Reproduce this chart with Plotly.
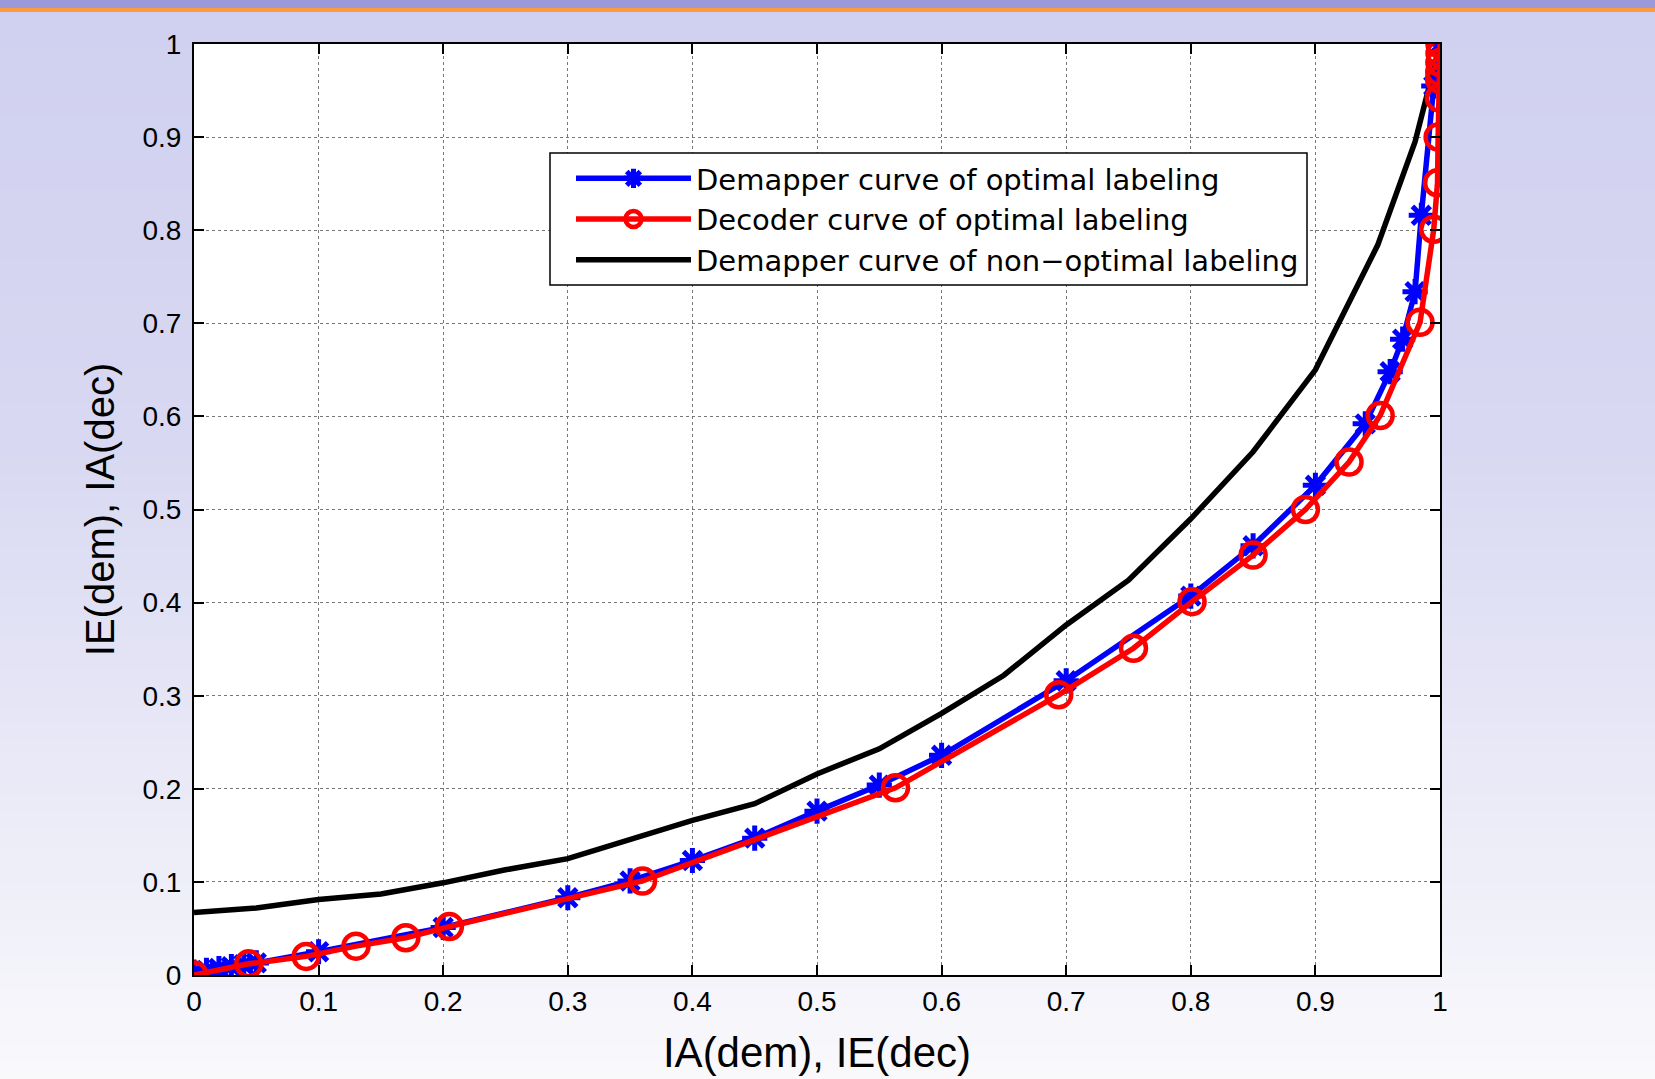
import plotly.graph_objects as go

# ---------------- data ----------------
demap_opt_x = [0.0, 0.01, 0.02, 0.03, 0.04, 0.05, 0.1, 0.2, 0.3, 0.35, 0.4, 0.45, 0.5, 0.55, 0.6,
               0.7, 0.8, 0.85, 0.9, 0.94, 0.96, 0.97, 0.98, 0.985, 0.995, 1.0]
demap_opt_y = [0.003, 0.005, 0.007, 0.009, 0.011, 0.013, 0.025, 0.051, 0.083, 0.101, 0.123, 0.147,
               0.176, 0.204, 0.236, 0.316, 0.407, 0.461, 0.526, 0.592, 0.648, 0.683, 0.734, 0.816,
               0.955, 1.0]

decoder_x = [0.0, 0.044, 0.09, 0.13, 0.17, 0.205, 0.36, 0.563, 0.694, 0.754, 0.801, 0.85, 0.892,
             0.927, 0.952, 0.984, 0.995, 0.998, 0.9985, 0.9995, 0.9997, 0.9998, 0.9999, 1.0, 1.0]
decoder_y = [0.0, 0.012, 0.02, 0.031, 0.04, 0.052, 0.101, 0.201, 0.301, 0.351, 0.401, 0.451, 0.5,
             0.551, 0.601, 0.701, 0.801, 0.851, 0.9, 0.942, 0.962, 0.97, 0.98, 0.99, 1.0]

demap_nonopt_x = [0.0, 0.05, 0.1, 0.15, 0.2, 0.25, 0.3, 0.35, 0.4, 0.45, 0.5, 0.55, 0.6, 0.65,
                  0.7, 0.75, 0.8, 0.85, 0.9, 0.95, 0.98, 1.0]
demap_nonopt_y = [0.067, 0.072, 0.081, 0.087, 0.099, 0.113, 0.125, 0.146, 0.166, 0.184, 0.216,
                  0.243, 0.281, 0.322, 0.376, 0.424, 0.49, 0.562, 0.65, 0.784, 0.895, 1.0]

series_names = ["Demapper curve of optimal labeling",
                "Decoder curve of optimal labeling",
                "Demapper curve of non\u2212optimal labeling"]

tick_vals = [0, 0.1, 0.2, 0.3, 0.4, 0.5, 0.6, 0.7, 0.8, 0.9, 1]
tick_text = ["0", "0.1", "0.2", "0.3", "0.4", "0.5", "0.6", "0.7", "0.8", "0.9", "1"]

x_title = "IA(dem), IE(dec)"
y_title = "IE(dem), IA(dec)"

# ---------------- figure ----------------
W, H = 1655, 1079
ML, MR, MT, MB = 194, 215, 44, 104
PW, PH = W - ML - MR, H - MT - MB

fig = go.Figure()

fig.add_trace(go.Scatter(
    x=demap_nonopt_x, y=demap_nonopt_y, mode="lines", name=series_names[2],
    line=dict(color="black", width=5.5)))
fig.add_trace(go.Scatter(
    x=demap_opt_x, y=demap_opt_y, mode="lines+markers", name=series_names[0],
    line=dict(color="#0000FF", width=5.5),
    marker=dict(symbol="asterisk-open", size=21, color="#0000FF",
                line=dict(width=5, color="#0000FF"))))
fig.add_trace(go.Scatter(
    x=decoder_x, y=decoder_y, mode="lines+markers", name=series_names[1],
    line=dict(color="#FF0000", width=5.5),
    marker=dict(symbol="circle-open", size=25, color="#FF0000",
                line=dict(width=4.5, color="#FF0000"))))


def px2paper_x(px):
    return (px - ML) / PW


def px2paper_y(py):
    return (H - MB - py) / PH


shapes = []
top_c = (208, 208, 240)
mid_c = (216, 216, 242)
bot_c = (249, 249, 252)
nb = 60
y_start = 12
for i in range(nb):
    t0 = i / nb
    t1 = (i + 1) / nb
    tm = (t0 + t1) / 2
    if tm < 0.4:
        f = tm / 0.4
        c = tuple(int(round(top_c[k] + (mid_c[k] - top_c[k]) * f)) for k in range(3))
    else:
        f = (tm - 0.4) / 0.6
        c = tuple(int(round(mid_c[k] + (bot_c[k] - mid_c[k]) * f)) for k in range(3))
    py0 = y_start + t0 * (H - y_start)
    py1 = y_start + t1 * (H - y_start) + 1
    shapes.append(dict(type="rect", xref="paper", yref="paper", layer="below",
                       x0=px2paper_x(-5), x1=px2paper_x(W + 5),
                       y0=px2paper_y(py1), y1=px2paper_y(py0),
                       line=dict(width=0), fillcolor="rgb(%d,%d,%d)" % c))
# top bars
shapes.append(dict(type="rect", xref="paper", yref="paper", layer="below",
                   x0=px2paper_x(-5), x1=px2paper_x(W + 5), y0=px2paper_y(8), y1=px2paper_y(-5),
                   line=dict(width=0), fillcolor="#9A9ADA"))
shapes.append(dict(type="rect", xref="paper", yref="paper", layer="below",
                   x0=px2paper_x(-5), x1=px2paper_x(W + 5), y0=px2paper_y(12), y1=px2paper_y(8),
                   line=dict(width=0), fillcolor="#FF9A3C"))
# white plot area
shapes.append(dict(type="rect", xref="paper", yref="paper", layer="below",
                   x0=0, x1=1, y0=0, y1=1, line=dict(width=0), fillcolor="white"))
# legend box (opaque, above data)
shapes.append(dict(type="rect", xref="paper", yref="paper", layer="above",
                   x0=px2paper_x(550), x1=px2paper_x(1307),
                   y0=px2paper_y(285), y1=px2paper_y(153),
                   line=dict(width=1.5, color="black"), fillcolor="white"))

axis_common = dict(
    range=[0, 1], tickmode="array", tickvals=tick_vals, ticktext=tick_text,
    showgrid=True, gridcolor="#777777", griddash="dot", gridwidth=1,
    showline=True, linecolor="black", linewidth=2, mirror="ticks",
    ticks="inside", ticklen=10, tickwidth=2, tickcolor="black",
    zeroline=False, tickfont=dict(family="Liberation Sans, Arial", size=28, color="black"),
)

fig.update_layout(
    width=W, height=H,
    margin=dict(l=ML, r=MR, t=MT, b=MB, autoexpand=False),
    paper_bgcolor="#E6E6F5", plot_bgcolor="white",
    shapes=shapes,
    xaxis=dict(**axis_common, ticklabelstandoff=0,
               title=dict(text=x_title, standoff=22,
                          font=dict(family="Liberation Sans, Arial", size=42, color="black"))),
    yaxis=dict(**axis_common, ticklabelstandoff=5,
               title=dict(text=y_title, standoff=15,
                          font=dict(family="Liberation Sans, Arial", size=40, color="black"))),
    showlegend=True,
    legend=dict(x=px2paper_x(571), y=px2paper_y(153), xanchor="left", yanchor="top",
                bgcolor="rgba(0,0,0,0)", borderwidth=0,
                font=dict(family="DejaVu Sans", size=29, color="black"),
                itemwidth=115, traceorder="normal", tracegroupgap=0),
)

# legend order: demapper optimal, decoder, non-optimal
fig.data[0].legendrank = 3
fig.data[1].legendrank = 1
fig.data[2].legendrank = 2

fig.write_html("out.html", config={"displayModeBar": False},
               post_script="document.body.style.margin='0px';")
